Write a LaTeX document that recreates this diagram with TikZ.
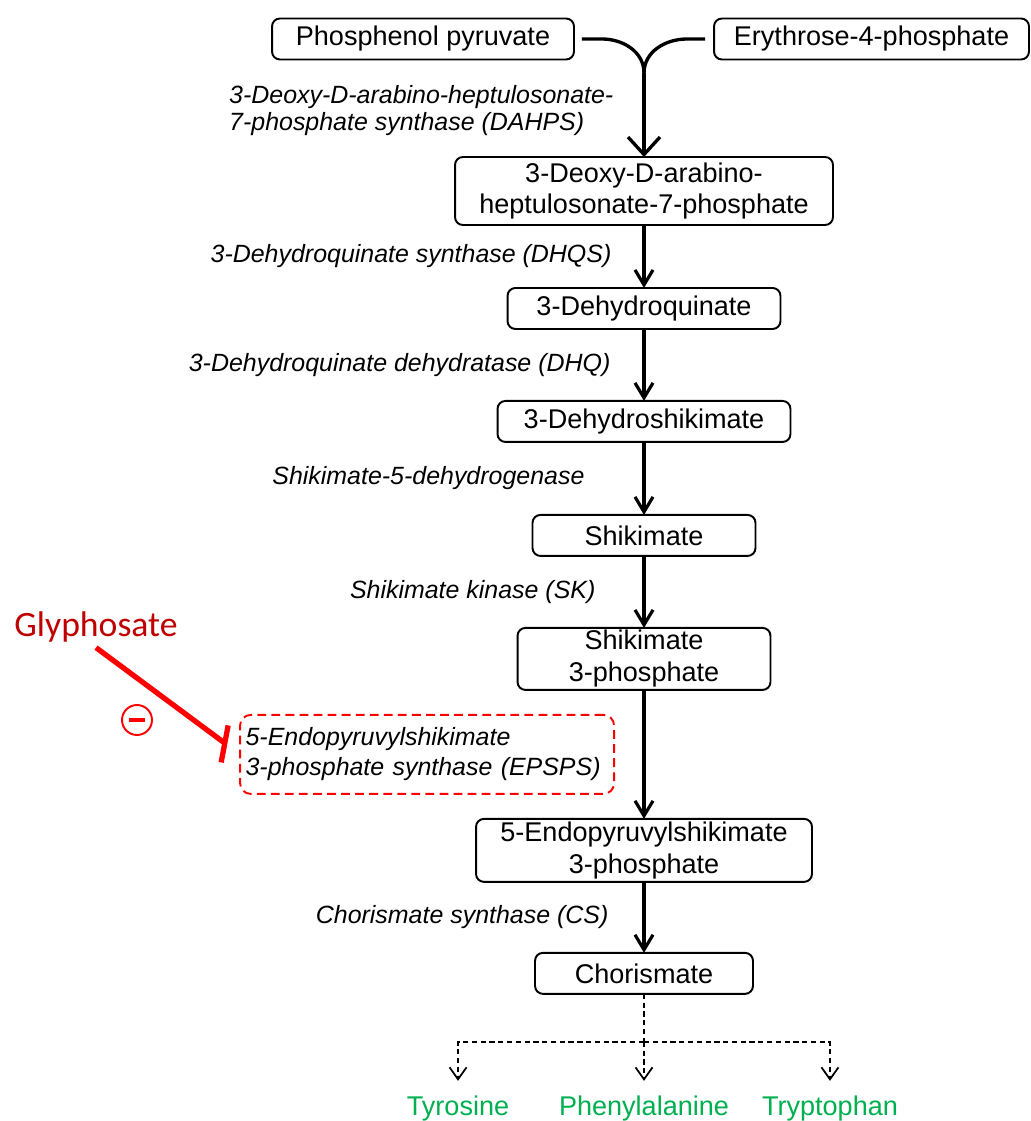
\documentclass[tikz,border=0pt]{standalone}
\usepackage{fontspec}
\setmainfont{Liberation Sans}
\newfontfamily\calibrifont{Carlito}
\usetikzlibrary{arrows.meta, positioning, calc}
\definecolor{cGlyph}{HTML}{C00000}
\definecolor{cInhib}{HTML}{FF0000}
\definecolor{cAmino}{HTML}{00B050}

\begin{document}
\begin{tikzpicture}[
    x=0.02cm, y=-0.02cm,
    box/.style={draw, line width=1.1pt, rounded corners=4.5pt, outer sep=0pt,
                minimum height=0.82cm, inner xsep=4pt, inner ysep=1pt,
                align=center, font=\fontsize{15.4}{18.2}\selectfont},
    lbl/.style={inner sep=0pt, align=left,
                font=\fontsize{14.2}{15.4}\selectfont\itshape},
    enz/.style={lbl, draw=cInhib, dashed, dash pattern=on 5pt off 3pt,
                line width=1.1pt, rounded corners=6pt, text width=7.26cm,
                inner xsep=0.11cm, minimum height=1.58cm,
                font=\fontsize{14.2}{17}\selectfont\itshape},
    amino/.style={inner sep=0pt, text=cAmino,
                  font=\fontsize{15.4}{18.2}\selectfont},
    line/.style={line width=1.9pt},
    arr/.style={line width=1.8pt,
                -{Straight Barb[length=0.3cm, width=0.36cm]}},
    bigarr/.style={line width=1.9pt,
                   -{Straight Barb[length=0.35cm, width=0.64cm]}},
    dasharr/.style={line width=1pt, dashed, dash pattern=on 3pt off 2pt,
                    -{Straight Barb[length=0.24cm, width=0.34cm]}},
    inhib/.style={line width=3pt, draw=cInhib},
  ]
  \useasboundingbox (0,0) rectangle (1030,1121);

  % Substrates
  \node[box, minimum width=6.04cm] (pep) at (423,39) {Phosphenol pyruvate};
  \node[box, minimum width=6.3cm]  (e4p) at (871.5,39) {Erythrose-4-phosphate};

  % Main chain
  \node[box, minimum width=7.56cm, minimum height=1.36cm] (dahp) at (644,191)
    {3-Deoxy-D-arabino-\\heptulosonate-7-phosphate};
  \node[box, minimum width=5.46cm, below=1.26cm of dahp] (dhq)  {3-Dehydroquinate};
  \node[box, minimum width=5.86cm, below=1.44cm of dhq]  (dhs)  {3-Dehydroshikimate};
  \node[box, minimum width=4.46cm, below=1.46cm of dhs]  (shik) {Shikimate};
  \node[box, minimum width=5.06cm, minimum height=1.24cm, below=1.44cm of shik]
    (s3p) {Shikimate\\3-phosphate};
  \node[box, minimum width=6.72cm, minimum height=1.26cm, below=2.58cm of s3p]
    (epsp) {5-Endopyruvylshikimate\\3-phosphate};
  \node[box, minimum width=4.36cm, below=1.42cm of epsp] (chor) {Chorismate};

  % Condensation
  \coordinate (merge) at (644,73);
  \draw[line, shorten <=0.16cm] (pep.east) -- ++(0.56cm,0) to[out=0, in=90] (merge);
  \draw[line, shorten <=0.18cm] (e4p.west) -- ++(-0.54cm,0) to[out=180, in=90] (merge);
  \draw[bigarr] (merge) -- (dahp)
    node[lbl, midway, left=0.58cm, yshift=0.08cm]
    {3-Deoxy-D-arabino-heptulosonate-\\7-phosphate synthase (DAHPS)};

  \draw[arr] (dahp) -- (dhq)  node[lbl, midway, left=0.62cm] {3-Dehydroquinate synthase (DHQS)};
  \draw[arr] (dhq)  -- (dhs)  node[lbl, midway, left=0.64cm] {3-Dehydroquinate dehydratase (DHQ)};
  \draw[arr] (dhs)  -- (shik) node[lbl, midway, left=1.16cm] {Shikimate-5-dehydrogenase};
  \draw[arr] (shik) -- (s3p)  node[lbl, midway, left=0.94cm] {Shikimate kinase (SK)};
  \draw[arr] (s3p)  -- (epsp) node[enz, midway, left=0.58cm] (epsps)
    {5-Endopyruvylshikimate\\3-phosphate synthase (EPSPS)};
  \draw[arr] (epsp) -- (chor) node[lbl, midway, left=0.68cm] {Chorismate synthase (CS)};

  % Inhibition by glyphosate
  \node[inner sep=0pt, text=cGlyph, font=\calibrifont\fontsize{20.3}{24}\selectfont]
    (gly) at (96,627) {Glyphosate};
  \coordinate (inh) at ([xshift=-0.28cm, yshift=0.22cm]epsps.west);
  \draw[inhib] ([yshift=-0.1cm]gly.south) -- (inh);
  \draw[inhib] (inh) ++(0.06cm,0.36cm) -- ++(-0.14cm,-0.74cm);
  \node[draw=cInhib, circle, line width=1.1pt, minimum size=0.6cm, inner sep=0pt]
    (minus) at (137,720) {};
  \draw[cInhib, line width=2.4pt] ([xshift=-0.16cm]minus.center) -- ([xshift=0.16cm]minus.center);

  % Aromatic amino acids
  \coordinate[below=0.96cm of chor.south] (split);
  \node[amino, anchor=north, below=1.08cm of split]                (phe) {Phenylalanine};
  \node[amino, anchor=north, below=1.08cm of split, xshift=-3.72cm] (tyr) {Tyrosine};
  \node[amino, anchor=north, below=1.08cm of split, xshift=3.72cm]  (trp) {Tryptophan};
  \draw[line width=1pt, dashed, dash pattern=on 3pt off 2pt] (chor) -- (split);
  \draw[dasharr, shorten >=0.3cm] (split) -| (tyr);
  \draw[dasharr, shorten >=0.3cm] (split) -- (phe);
  \draw[dasharr, shorten >=0.3cm] (split) -| (trp);
\end{tikzpicture}
\end{document}
